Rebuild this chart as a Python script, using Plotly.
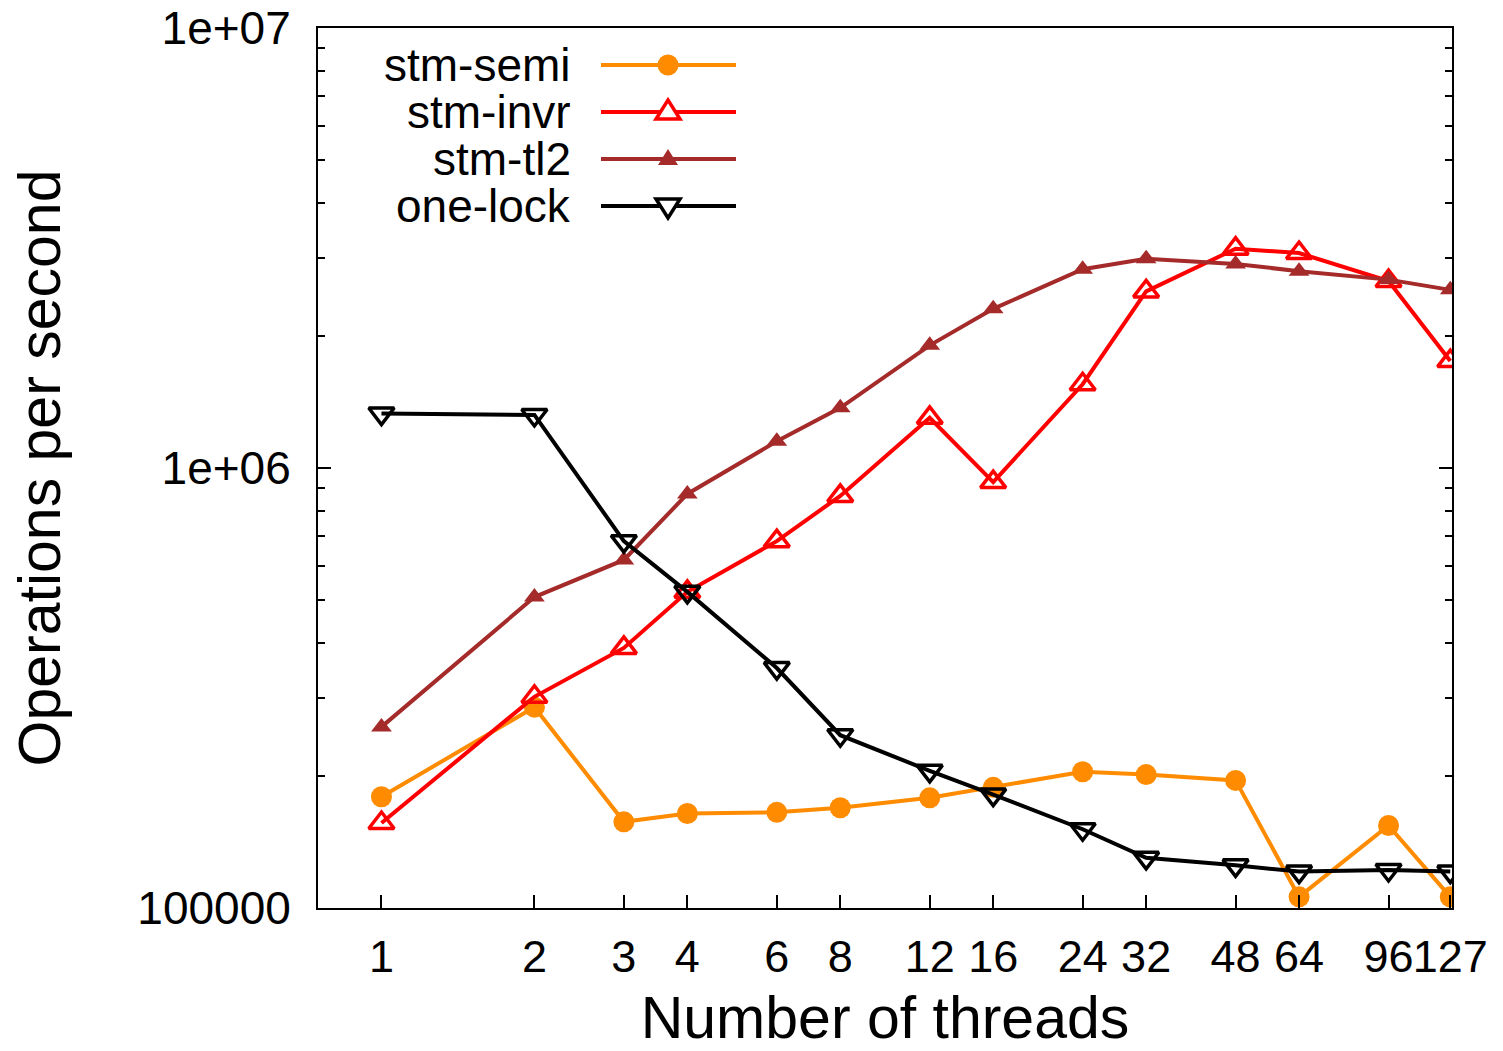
import math
import plotly.graph_objects as go

# ---------------- data ----------------
threads = [1, 2, 3, 4, 6, 8, 12, 16, 24, 32, 48, 64, 96, 127]
x_tick_labels = ["1", "2", "3", "4", "6", "8", "12", "16", "24", "32", "48", "64", "96", "127"]
y_tick_vals = [1e5, 1e6, 1e7]
y_tick_labels = ["100000", "1e+06", "1e+07"]

stm_semi = [1.79e5, 2.86e5, 1.57e5, 1.64e5, 1.65e5, 1.69e5, 1.78e5, 1.88e5,
            2.04e5, 2.01e5, 1.95e5, 1.06e5, 1.54e5, 1.06e5]
stm_invr = [1.56e5, 3.02e5, 3.90e5, 5.23e5, 6.82e5, 8.64e5, 1.30e6, 9.29e5,
            1.55e6, 2.52e6, 3.15e6, 3.08e6, 2.66e6, 1.75e6]
stm_tl2 = [2.58e5, 5.09e5, 6.18e5, 8.73e5, 1.15e6, 1.37e6, 1.90e6, 2.30e6,
           2.83e6, 2.99e6, 2.91e6, 2.80e6, 2.68e6, 2.54e6]
one_lock = [1.33e6, 1.32e6, 6.82e5, 5.23e5, 3.51e5, 2.47e5, 2.05e5, 1.81e5,
            1.51e5, 1.30e5, 1.25e5, 1.21e5, 1.22e5, 1.21e5]

series_names = ["stm-semi", "stm-invr", "stm-tl2", "one-lock"]

# ---------------- styles ----------------
FONT = "Liberation Sans, Arial, Helvetica, sans-serif"
C_SEMI = "#ff8c00"
C_INVR = "#ff0000"
C_TL2 = "#a52a2a"
C_LOCK = "#000000"
LW = 4

fig = go.Figure()

fig.add_trace(go.Scatter(
    x=threads, y=stm_semi, name=series_names[0], mode="lines+markers",
    line=dict(color=C_SEMI, width=LW),
    marker=dict(symbol="circle", size=21, color=C_SEMI, line=dict(width=0)),
))
fig.add_trace(go.Scatter(
    x=threads, y=stm_invr, name=series_names[1], mode="lines+markers",
    line=dict(color=C_INVR, width=LW),
    marker=dict(symbol="triangle-up-open", size=22, color=C_INVR,
                line=dict(width=3.5, color=C_INVR)),
))
fig.add_trace(go.Scatter(
    x=threads, y=stm_tl2, name=series_names[2], mode="lines+markers",
    line=dict(color=C_TL2, width=LW),
    marker=dict(symbol="triangle-up", size=18, color=C_TL2, line=dict(width=0)),
))
fig.add_trace(go.Scatter(
    x=threads, y=one_lock, name=series_names[3], mode="lines+markers",
    line=dict(color=C_LOCK, width=LW),
    marker=dict(symbol="triangle-down-open", size=22, color=C_LOCK,
                line=dict(width=3.5, color=C_LOCK)),
))

# ---------------- legend (gnuplot style: text left, sample right) ----------------
W, H = 1503, 1051
ML, MR, MT, MB = 318, 51, 28, 143
PW = W - ML - MR
PH = H - MT - MB


def px_x(px):
    return (px - ML) / PW


def px_y(py):
    return (H - MB - py) / PH


row_y = [65, 112, 159, 206]
text_right = 573
line_x0, line_x1, mark_x = 601, 736, 668
colors = [C_SEMI, C_INVR, C_TL2, C_LOCK]

shapes = []
annotations = []
for i, name in enumerate(series_names):
    yy = px_y(row_y[i])
    annotations.append(dict(
        x=px_x(text_right), y=yy, xref="paper", yref="paper",
        text=name, showarrow=False, xanchor="right", yanchor="middle",
        height=44, valign="middle",
        font=dict(family=FONT, size=46, color="black"),
    ))
    shapes.append(dict(
        type="line", xref="paper", yref="paper",
        x0=px_x(line_x0), x1=px_x(line_x1), y0=yy, y1=yy,
        line=dict(color=colors[i], width=LW),
    ))

# legend marker glyphs (pixel sized, anchored on the sample line)
ax = px_x(mark_x)
shapes.append(dict(  # circle
    type="circle", xref="paper", yref="paper", xsizemode="pixel", ysizemode="pixel",
    xanchor=ax, yanchor=px_y(row_y[0]), x0=-10.5, x1=10.5, y0=-10.5, y1=10.5,
    fillcolor=C_SEMI, line=dict(width=0),
))
shapes.append(dict(  # open triangle up
    type="path", xref="paper", yref="paper", xsizemode="pixel", ysizemode="pixel",
    xanchor=ax, yanchor=px_y(row_y[1]),
    path="M -12,-7 L 12,-7 L 0,12 Z",
    fillcolor="white", line=dict(color=C_INVR, width=3.5),
))
shapes.append(dict(  # filled triangle up
    type="path", xref="paper", yref="paper", xsizemode="pixel", ysizemode="pixel",
    xanchor=ax, yanchor=px_y(row_y[2]),
    path="M -10,-6 L 10,-6 L 0,10 Z",
    fillcolor=C_TL2, line=dict(color=C_TL2, width=0),
))
shapes.append(dict(  # open triangle down
    type="path", xref="paper", yref="paper", xsizemode="pixel", ysizemode="pixel",
    xanchor=ax, yanchor=px_y(row_y[3]),
    path="M -12,7 L 12,7 L 0,-12 Z",
    fillcolor="white", line=dict(color=C_LOCK, width=3.5),
))

minor_y = [m * 10 ** e for e in (5, 6) for m in range(2, 10)]

fig.update_layout(
    width=W, height=H,
    margin=dict(l=ML, r=MR, t=MT, b=MB, pad=0),
    paper_bgcolor="white", plot_bgcolor="white",
    showlegend=False,
    font=dict(family=FONT, size=45, color="black"),
    shapes=shapes,
    annotations=annotations,
    xaxis=dict(
        type="log",
        range=[math.log10(0.75), math.log10(128)],
        tickmode="array", tickvals=threads, ticktext=x_tick_labels,
        tickangle=0,
        ticks="inside", ticklen=13, tickwidth=2, tickcolor="black",
        showline=True, linecolor="black", linewidth=2, mirror=True,
        showgrid=False, zeroline=False, automargin=False,
        tickfont=dict(family=FONT, size=45, color="black"),
        ticklabelstandoff=8,
        title=dict(text="Number of threads",
                   font=dict(family=FONT, size=59, color="black"), standoff=36),
    ),
    yaxis=dict(
        type="log",
        range=[5, 7],
        tickmode="array", tickvals=y_tick_vals, ticktext=y_tick_labels,
        ticks="inside", ticklen=13, tickwidth=2, tickcolor="black",
        minor=dict(tickmode="array", tickvals=minor_y, ticks="inside",
                   ticklen=7, tickwidth=2, tickcolor="black", showgrid=False),
        showline=True, linecolor="black", linewidth=2, mirror="ticks",
        showgrid=False, zeroline=False, automargin=False,
        tickfont=dict(family=FONT, size=46, color="black"),
        ticklabelstandoff=16,
        title=dict(text="Operations per second",
                   font=dict(family=FONT, size=59, color="black"), standoff=58),
    ),
)

fig.write_html("out.html")
